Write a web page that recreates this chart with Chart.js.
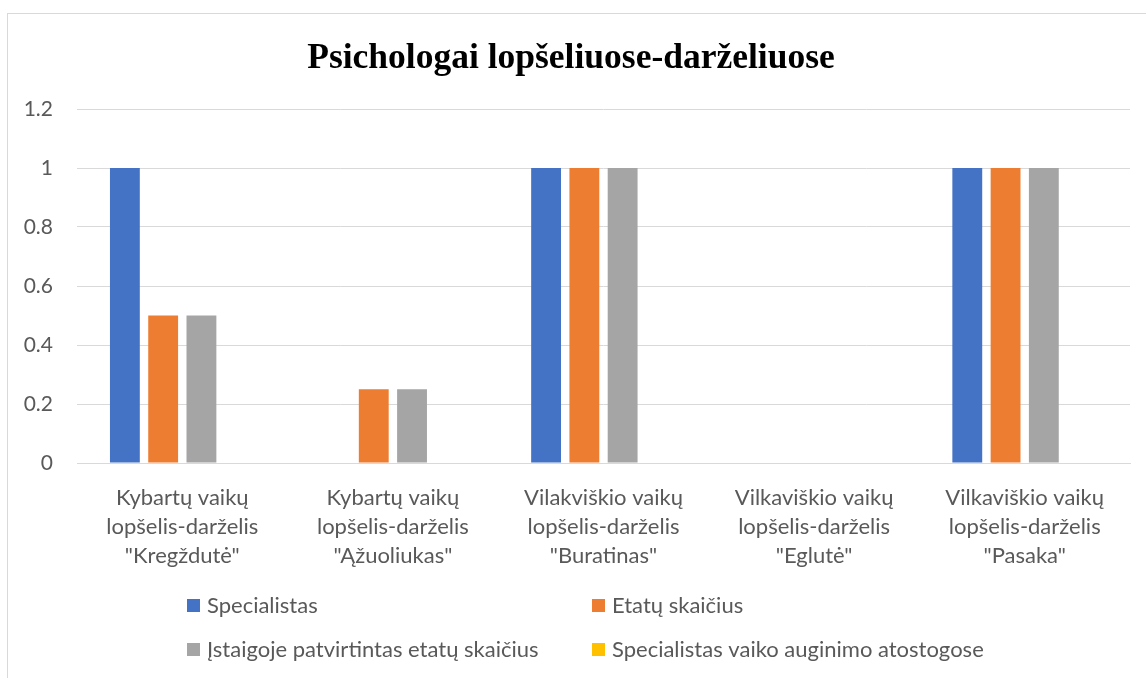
<!DOCTYPE html>
<html>
<head>
<meta charset="utf-8">
<script src="https://cdn.jsdelivr.net/npm/chart.js@4/dist/chart.umd.min.js"></script>
<style>
   html, body { margin: 0; padding: 0; background: #fff; }
   #wrap { position: relative; width: 1146px; height: 678px; overflow: hidden; }
   #frame { position: absolute; left: 7px; top: 13px; width: 1150px; height: 700px; border: 1px solid #d9d9d9; box-sizing: border-box; }
   canvas { position: absolute; left: 0; top: 0; }
</style>
</head>
<body>
<div id="wrap">
   <div id="frame"></div>
   <canvas id="canvas-1" width="1146" height="678"></canvas>
</div>
<script>
const TITLE = "Psichologai lopšeliuose-darželiuose";

const CATEGORIES = [
   ["Kybartų vaikų", "lopšelis-darželis", "\"Kregždutė\""],
   ["Kybartų vaikų", "lopšelis-darželis", "\"Ąžuoliukas\""],
   ["Vilakviškio vaikų", "lopšelis-darželis", "\"Buratinas\""],
   ["Vilkaviškio vaikų", "lopšelis-darželis", "\"Eglutė\""],
   ["Vilkaviškio vaikų", "lopšelis-darželis", "\"Pasaka\""],
];

const SERIES_NAMES = [
   "Specialistas",
   "Etatų skaičius",
   "Įstaigoje patvirtintas etatų skaičius",
   "Specialistas vaiko auginimo atostogose",
];

const SPECIALISTAS = [1, 0, 1, 0, 1];
const ETATU_SKAICIUS = [0.5, 0.25, 1, 0, 1];
const PATVIRTINTAS = [0.5, 0.25, 1, 0, 1];
const ATOSTOGOSE = [0, 0, 0, 0, 0];

const COLORS = ["#4472C4", "#ED7D31", "#A5A5A5", "#FFC000"];
const Y_TICKS = [0, 0.2, 0.4, 0.6, 0.8, 1, 1.2];

const LABEL_FONT = "Lato";
const TEXT_GRAY = "#595959";

// title + two-column legend drawn by hand, like the office chart
const extras = {
   id: "extras",
   afterDraw(chart) {
      const ctx = chart.ctx;
      ctx.save();
      ctx.fillStyle = "#000";
      ctx.font = "bold 35.5px 'Liberation Serif'";
      ctx.textAlign = "center";
      ctx.textBaseline = "alphabetic";
      ctx.fillText(TITLE, 571, 68);

      const cols = [187, 592];
      const rows = [606, 650];
      ctx.font = "22px " + LABEL_FONT;
      ctx.textAlign = "left";
      ctx.textBaseline = "middle";
      chart.data.datasets.forEach((ds, i) => {
         const x = cols[i % 2];
         const y = rows[Math.floor(i / 2)];
         ctx.fillStyle = ds.backgroundColor;
         ctx.fillRect(x, y - 7, 13, 13);
         ctx.fillStyle = TEXT_GRAY;
         ctx.fillText(ds.label, x + 20, y);
      });
      ctx.restore();
   },
};

const seriesData = [SPECIALISTAS, ETATU_SKAICIUS, PATVIRTINTAS, ATOSTOGOSE];

const ctx = document.getElementById("canvas-1").getContext("2d");
new Chart(ctx, {
   type: "bar",
   data: {
      labels: CATEGORIES,
      datasets: SERIES_NAMES.map((name, i) => ({
         label: name,
         data: seriesData[i],
         backgroundColor: COLORS[i],
         borderWidth: 0,
         categoryPercentage: 0.727,
         barPercentage: 0.78,
      })),
   },
   options: {
      responsive: false,
      animation: false,
      layout: { padding: { left: 7, right: 16, top: 109, bottom: 0 } },
      scales: {
         x: {
            grid: { display: false },
            border: { color: "#d9d9d9", width: 1 },
            ticks: {
               color: TEXT_GRAY,
               font: { family: LABEL_FONT, size: 22, lineHeight: 1.32 },
               padding: 12,
               maxRotation: 0,
               autoSkip: false,
            },
            afterFit(scale) { scale.height = 215; },
         },
         y: {
            min: 0,
            max: 1.2,
            afterBuildTicks(scale) { scale.ticks = Y_TICKS.map((v) => ({ value: v })); },
            grid: { color: "#d9d9d9", drawTicks: false },
            border: { display: false },
            ticks: {
               color: TEXT_GRAY,
               font: { family: LABEL_FONT, size: 21 },
               padding: 24,
               callback: (v) => String(v),
            },
            afterFit(scale) { scale.width = 70; },
         },
      },
      plugins: {
         legend: { display: false },
         title: { display: false },
         tooltip: { enabled: false },
      },
   },
   plugins: [extras],
});
</script>
</body>
</html>
